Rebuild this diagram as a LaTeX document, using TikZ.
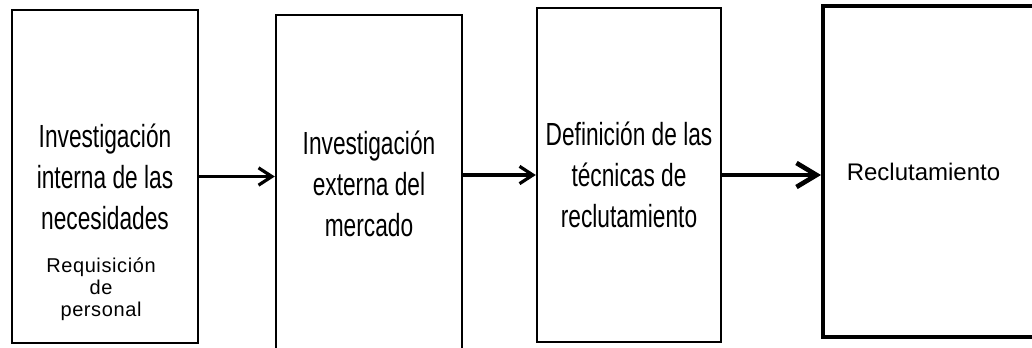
\documentclass[tikz,border=0pt]{standalone}
\usepackage{fontspec}
\setmainfont{Liberation Sans}
\newfontfamily\narrowfont{Liberation Sans}[FakeStretch=0.71]
\newfontfamily\spacedfont{Liberation Sans}[LetterSpace=3]
\usetikzlibrary{arrows.meta}
\tikzset{
  etapa/.style={draw,rectangle,line width=1.8pt,align=center,inner sep=0pt,
    font=\narrowfont\fontsize{24}{30.75}\selectfont},
  flecha/.style={line width=2.4pt,-{Straight Barb[length=10pt,width=13pt]}},
}

\begin{document}
\begin{tikzpicture}[x=0.75pt,y=-0.75pt]
\useasboundingbox (0,0) rectangle (1032,347);
\fill[white] (0,0) rectangle (1032,347);
\clip (0,0) rectangle (1032,347);
\node[etapa,line width=2pt,minimum width=139.5pt,minimum height=249.75pt] (interna) at (105,176.5) {Investigación\\interna de las\\necesidades};
\node[font=\spacedfont\fontsize{15}{16.5}\selectfont,align=center] (requisicion) at (101,289) {Requisición\\de\\personal};
\node[etapa,minimum width=139.5pt,minimum height=253.5pt] (externa) at (369,184) {Investigación\\externa del\\mercado};
\node[etapa,minimum width=138pt,minimum height=250.5pt] (tecnicas) at (629,175) {Definición de las\\técnicas de\\reclutamiento};
\node[etapa,anchor=west,line width=2.7pt,minimum width=168pt,minimum height=248.25pt,inner xsep=18pt,text width=132pt,align=left,font=\fontsize{18}{22}\selectfont] (reclutamiento) at (821,171.5) {Reclutamiento};
\draw[flecha] (interna.east) -- (externa.west |- interna.east);
\draw[flecha] (externa.east |- tecnicas.west) -- (tecnicas.west);
\draw[flecha,line width=3.5pt,-{Straight Barb[length=15pt,width=18pt]}] (tecnicas.east) -- (reclutamiento.west |- tecnicas.east);
\end{tikzpicture}
\end{document}
